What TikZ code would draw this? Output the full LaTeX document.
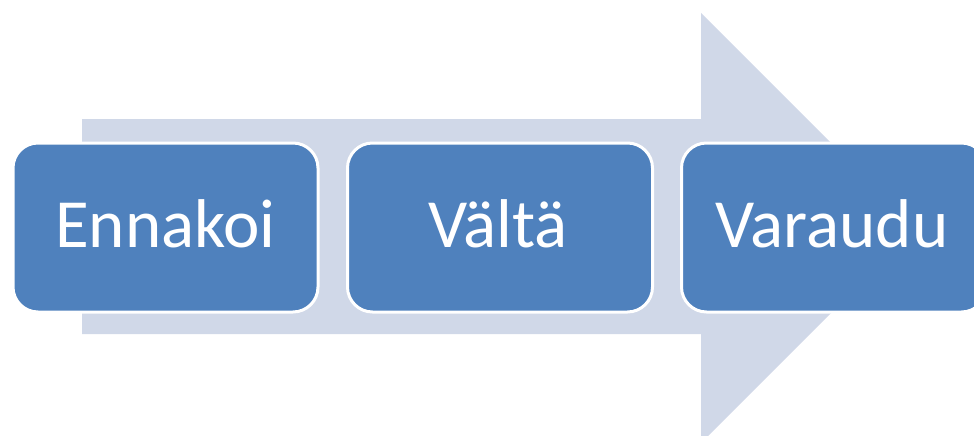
\documentclass[tikz,border=0pt]{standalone}
\usepackage{fontspec}
\setmainfont{Carlito}
\definecolor{arrowfill}{HTML}{D0D8E8}
\definecolor{boxfill}{HTML}{4F81BD}
\tikzset{
  stepbox/.style={draw=white, line width=3pt, fill=boxfill, rounded corners=25pt,
    minimum width=305pt, minimum height=169pt, inner sep=0pt, outer sep=0pt},
  lbl/.style={text=white, font=\fontsize{69}{80}\selectfont, anchor=base, inner sep=0pt}
}
\begin{document}
\begin{tikzpicture}[x=1pt,y=-1pt]
\useasboundingbox (0,0) rectangle (974,436);
\fill[arrowfill] (82,119) -- (701,119) -- (701,13) -- (916,228) -- (701,443) -- (701,334) -- (82,334) -- cycle;
\node[stepbox] (b1) at (165.5,227.5) {};
\node[stepbox] (b2) at (500,227.5) {};
\node[stepbox] (b3) at (834,227.5) {};
\node[lbl] (t1) at (165.5,247) {Ennakoi};
\node[lbl] (t2) at (498,247) {Vältä};
\node[lbl] (t3) at (832,247) {Varaudu};
\end{tikzpicture}
\end{document}
